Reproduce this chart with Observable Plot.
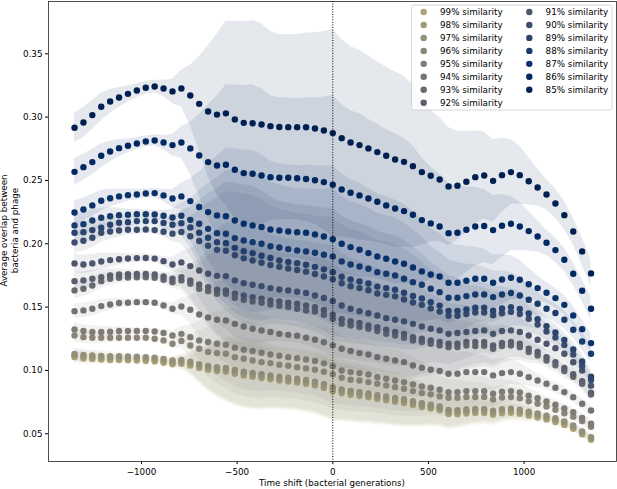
<!DOCTYPE html>
<html><head><meta charset="utf-8">
<script src="https://cdn.jsdelivr.net/npm/d3@7"></script>
<script src="https://cdn.jsdelivr.net/npm/@observablehq/plot@0.6"></script>
<style>body{margin:0;background:#fff;} svg{display:block;}</style>
</head><body><div id="chart"></div>
<script>
// similarity levels (legend order)
const similarities = [99,98,97,96,95,94,93,92,91,90,89,88,87,86,85];
// time shifts: 59 samples from -1350 to 1350 (bacterial generations)
const timeShifts = d3.range(59).map(i => -1350 + i * 2700 / 58);
const xTicks = [-1000, -500, 0, 500, 1000];
const yTicks = [0.05, 0.10, 0.15, 0.20, 0.25, 0.30, 0.35];

// average overlap per similarity level
const s85 = [.2916,.2958,.3016,.3082,.3124,.3155,.3184,.3210,.3232,.3242, .3226,.3203,.3226,.3171,.3105,.3045,.3020,.3030,.2982,.2955, .2952,.2942,.2929,.2922,.2921,.2921,.2920,.2910,.2895,.2874, .2834,.2800,.2779,.2753,.2724,.2695,.2666,.2647,.2613,.2566, .2537,.2508,.2453,.2458,.2490,.2526,.2539,.2497,.2542,.2566, .2542,.2494,.2445,.2389,.2318,.2226,.2097,.1940,.1766];
const s86 = [.2568,.2605,.2645,.2695,.2729,.2755,.2774,.2792,.2808,.2816, .2800,.2779,.2800,.2753,.2697,.2645,.2618,.2624,.2584,.2558, .2553,.2539,.2526,.2521,.2521,.2518,.2511,.2502,.2487,.2467, .2429,.2403,.2382,.2358,.2332,.2303,.2279,.2258,.2229,.2187, .2161,.2137,.2084,.2087,.2111,.2137,.2140,.2108,.2142,.2158, .2137,.2100,.2058,.2008,.1950,.1874,.1763,.1629,.1487];
const s87 = [.2247,.2271,.2303,.2340,.2360,.2374,.2384,.2389,.2397,.2400, .2382,.2358,.2374,.2337,.2290,.2250,.2224,.2218,.2184,.2158, .2145,.2132,.2113,.2105,.2097,.2092,.2087,.2074,.2058,.2036, .2000,.1974,.1953,.1926,.1900,.1882,.1860,.1842,.1813,.1782, .1758,.1742,.1692,.1692,.1708,.1724,.1724,.1692,.1718,.1732, .1716,.1681,.1650,.1613,.1571,.1518,.1434,.1326,.1216];
const s88 = [.2145,.2155,.2184,.2205,.2218,.2226,.2229,.2234,.2234,.2232, .2221,.2208,.2221,.2189,.2158,.2118,.2084,.2079,.2045,.2026, .2013,.2000,.1981,.1971,.1958,.1947,.1939,.1929,.1913,.1900, .1861,.1837,.1821,.1803,.1776,.1763,.1750,.1724,.1697,.1676, .1645,.1618,.1574,.1574,.1587,.1600,.1600,.1579,.1600,.1611, .1592,.1558,.1526,.1487,.1453,.1400,.1321,.1229,.1132];
const s89 = [.2087,.2092,.2108,.2127,.2150,.2166,.2171,.2179,.2179,.2179, .2165,.2150,.2163,.2128,.2088,.2048,.2012,.2005,.1968,.1942, .1925,.1905,.1888,.1868,.1857,.1847,.1835,.1818,.1798,.1775, .1740,.1718,.1703,.1687,.1662,.1650,.1638,.1613,.1588,.1568, .1538,.1512,.1470,.1470,.1482,.1495,.1495,.1472,.1490,.1500, .1485,.1450,.1405,.1350,.1300,.1240,.1165,.1070,.0950];
const s90 = [.2011,.2024,.2048,.2087,.2097,.2105,.2111,.2111,.2113,.2108, .2095,.2080,.2093,.2060,.2022,.1985,.1952,.1945,.1910,.1885, .1868,.1850,.1833,.1818,.1805,.1793,.1780,.1762,.1742,.1720, .1688,.1665,.1650,.1633,.1608,.1597,.1585,.1561,.1537,.1518, .1490,.1465,.1432,.1432,.1445,.1458,.1458,.1435,.1452,.1462, .1445,.1408,.1362,.1308,.1260,.1200,.1125,.1035,.0925];
const s91 = [.1845,.1836,.1845,.1860,.1871,.1878,.1884,.1887,.1888,.1883, .1863,.1837,.1853,.1824,.1789,.1763,.1747,.1745,.1711,.1689, .1676,.1666,.1650,.1639,.1632,.1621,.1611,.1592,.1572,.1548, .1513,.1487,.1468,.1452,.1434,.1413,.1400,.1387,.1368,.1347, .1329,.1316,.1289,.1295,.1303,.1311,.1316,.1289,.1311,.1316, .1303,.1276,.1242,.1211,.1176,.1132,.1065,.1000,.0880];
const s92 = [.1705,.1711,.1724,.1737,.1750,.1758,.1760,.1762,.1762,.1758, .1742,.1724,.1737,.1711,.1679,.1658,.1637,.1632,.1605,.1592, .1579,.1566,.1553,.1545,.1534,.1526,.1513,.1500,.1478,.1440, .1405,.1389,.1374,.1355,.1342,.1321,.1303,.1289,.1263,.1250, .1237,.1224,.1211,.1211,.1224,.1224,.1224,.1197,.1218,.1224, .1211,.1171,.1145,.1105,.1066,.1020,.0970,.0915,.0825];
const s93 = [.1632,.1645,.1671,.1705,.1724,.1732,.1734,.1735,.1735,.1732, .1716,.1697,.1711,.1684,.1645,.1626,.1605,.1605,.1574,.1558, .1545,.1534,.1521,.1510,.1500,.1487,.1474,.1466,.1440,.1408, .1368,.1355,.1342,.1329,.1311,.1289,.1276,.1258,.1237,.1224, .1211,.1197,.1184,.1184,.1197,.1192,.1195,.1171,.1192,.1197, .1184,.1145,.1118,.1079,.1040,.0995,.0950,.0895,.0810];
const s94 = [.1468,.1474,.1487,.1508,.1521,.1532,.1534,.1539,.1539,.1534, .1513,.1487,.1505,.1479,.1442,.1418,.1400,.1395,.1368,.1347, .1329,.1316,.1303,.1289,.1281,.1274,.1258,.1242,.1222,.1198, .1171,.1153,.1137,.1126,.1105,.1092,.1079,.1066,.1039,.1021, .1005,.0995,.0974,.0974,.0987,.0987,.0987,.0961,.0979,.0987, .0974,.0947,.0921,.0895,.0863,.0829,.0789,.0737,.0684];
const s95 = [.1324,.1311,.1303,.1303,.1305,.1311,.1311,.1311,.1311,.1308, .1295,.1276,.1289,.1263,.1237,.1224,.1211,.1203,.1179,.1163, .1153,.1140,.1126,.1116,.1105,.1097,.1087,.1074,.1056,.1034, .1000,.0987,.0979,.0968,.0947,.0934,.0921,.0908,.0889,.0874, .0863,.0847,.0829,.0829,.0837,.0837,.0837,.0816,.0832,.0837, .0826,.0800,.0780,.0755,.0730,.0700,.0670,.0625,.0580];
const s96 = [.1276,.1263,.1258,.1258,.1258,.1258,.1258,.1258,.1258,.1250, .1237,.1211,.1232,.1197,.1171,.1145,.1137,.1132,.1105,.1092, .1079,.1066,.1058,.1045,.1037,.1026,.1016,.1005,.0990,.0970, .0942,.0926,.0921,.0908,.0895,.0882,.0868,.0855,.0837,.0821, .0811,.0795,.0784,.0784,.0790,.0790,.0790,.0770,.0786,.0790, .0780,.0757,.0737,.0715,.0690,.0662,.0635,.0600,.0555];
const s97 = [.1130,.1122,.1118,.1115,.1112,.1112,.1110,.1108,.1105,.1100, .1090,.1078,.1082,.1068,.1050,.1035,.1025,.1020,.1003,.0990, .0980,.0970,.0960,.0950,.0942,.0935,.0925,.0912,.0892,.0868, .0850,.0838,.0828,.0818,.0805,.0795,.0783,.0772,.0757,.0742, .0730,.0715,.0688,.0686,.0692,.0696,.0696,.0682,.0694,.0698, .0690,.0675,.0660,.0642,.0622,.0598,.0565,.0518,.0472];
const s98 = [.1118,.1108,.1104,.1100,.1097,.1097,.1095,.1093,.1090,.1085, .1075,.1063,.1067,.1053,.1035,.1020,.1010,.1005,.0988,.0975, .0965,.0955,.0945,.0935,.0927,.0920,.0910,.0897,.0877,.0852, .0835,.0823,.0813,.0803,.0790,.0780,.0768,.0757,.0742,.0727, .0715,.0700,.0672,.0670,.0676,.0680,.0680,.0666,.0678,.0682, .0674,.0659,.0644,.0627,.0607,.0584,.0552,.0506,.0462];
const s99 = [.1105,.1094,.1090,.1086,.1083,.1082,.1080,.1078,.1075,.1070, .1060,.1048,.1052,.1038,.1020,.1005,.0995,.0990,.0973,.0960, .0950,.0940,.0930,.0920,.0912,.0905,.0895,.0882,.0862,.0836, .0820,.0808,.0798,.0788,.0775,.0765,.0753,.0742,.0727,.0712, .0700,.0685,.0656,.0654,.0660,.0664,.0664,.0650,.0662,.0666, .0658,.0643,.0628,.0612,.0592,.0570,.0539,.0495,.0453];

// relative half-width of the shaded spread band at each time shift
const bandSpread = [.04,.04,.038,.035,.03,.025,.02,.017,.015,.015, .02,.03,.045,.075,.12,.17,.21,.24,.26,.27, .275,.27,.255,.25,.25,.25,.255,.26,.27,.285, .275,.27,.27,.265,.262,.26,.26,.255,.245,.225, .205,.195,.19,.175,.16,.145,.135,.13,.115,.10, .09,.075,.06,.05,.05,.05,.05,.055,.06];

const seriesValues = {85:s85,86:s86,87:s87,88:s88,89:s89,90:s90,91:s91,92:s92,93:s93,94:s94,95:s95,96:s96,97:s97,98:s98,99:s99};
const colorOf = s => d3.interpolateCividis((s - 85) / 14 * 0.7);
const fmtTick = d => (d < 0 ? "\u2212" : "") + Math.abs(d);

const marks = [];
for (const s of similarities) {
  const vals = seriesValues[s];
  const data = timeShifts.map((t, i) => ({t, v: vals[i], lo: vals[i] * (1 - bandSpread[i]), hi: vals[i] * (1 + bandSpread[i])}));
  const c = colorOf(s);
  marks.push(Plot.areaY(data, {x: "t", y1: "lo", y2: "hi", fill: c, fillOpacity: 0.1}));
  marks.push(Plot.dot(data, {x: "t", y: "v", r: 3.2, fill: c, stroke: "none"}));
}

const plot = Plot.plot({
  width: 617, height: 489,
  marginLeft: 48, marginRight: 1, marginTop: 1, marginBottom: 28,
  style: {fontFamily: "DejaVu Sans", fontSize: "8.75px", background: "white", color: "black"},
  x: {domain: [-1486, 1483], ticks: xTicks, tickFormat: fmtTick, tickSize: 3, tickPadding: 4.5, label: null},
  y: {domain: [0.0281, 0.3913], ticks: yTicks, tickFormat: d3.format(".2f"), tickSize: 3, tickPadding: 3, label: null},
  marks: [
    ...marks,
    Plot.ruleX([0], {stroke: "black", strokeWidth: 1, strokeDasharray: "1,1.6"}),
    Plot.frame({stroke: "#222", strokeWidth: 0.8})
  ]
});
document.getElementById("chart").appendChild(plot);

const svg = d3.select(plot);
const font = "DejaVu Sans";
// axis titles
svg.append("text").attr("x", 332).attr("y", 486).attr("text-anchor", "middle")
  .attr("font-family", font).attr("font-size", "8.75px").attr("fill", "black")
  .text("Time shift (bacterial generations)");
const yl = svg.append("text").attr("transform", "translate(0,230.5) rotate(-90)")
  .attr("text-anchor", "middle").attr("font-family", font).attr("font-size", "8.75px").attr("fill", "black");
yl.append("tspan").attr("x", 0).attr("y", 7).text("Average overlap between");
yl.append("tspan").attr("x", 0).attr("y", 17.5).text("bacteria and phage");

// legend
const lg = svg.append("g").attr("text-anchor", "start");
lg.append("rect").attr("x", 411.5).attr("y", 5).attr("width", 200.5).attr("height", 105).attr("rx", 2.5)
  .attr("fill", "white").attr("fill-opacity", 0.8).attr("stroke", "#cccccc").attr("stroke-width", 0.8);
similarities.forEach((s, k) => {
  const col = k < 8 ? 0 : 1, row = k < 8 ? k : k - 8;
  const cx = col ? 529.3 : 423.7, cy = 12 + row * 12.96;
  lg.append("circle").attr("cx", cx).attr("cy", cy).attr("r", 3.2).attr("fill", colorOf(s));
  lg.append("text").attr("x", cx + 16.3).attr("y", cy).attr("dy", "0.35em").attr("text-anchor", "start")
    .attr("font-family", font).attr("font-size", "8.75px").attr("fill", "black").text(`${s}% similarity`);
});
</script></body></html>
